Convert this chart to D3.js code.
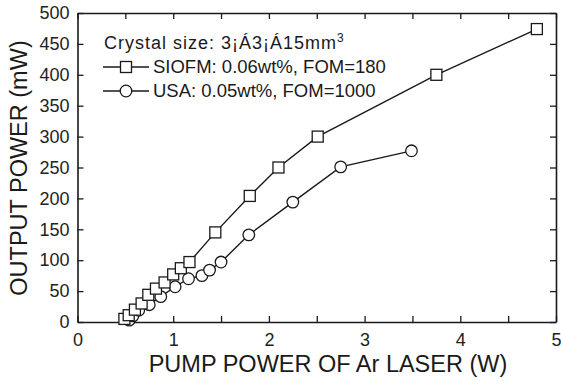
<!DOCTYPE html>
<html>
<head>
<meta charset="utf-8">
<script src="https://cdn.jsdelivr.net/npm/d3@7"></script>
<style>
  body { margin: 0; background: #fff; }
  svg { display: block; font-family: "Liberation Sans", Arial, sans-serif; }
</style>
</head>
<body>
<svg width="561" height="386"></svg>
<script>
// SIOFM: 0.06wt%, FOM=180 (squares)
var siofmX = [0.49, 0.535, 0.60, 0.67, 0.74, 0.82, 0.91, 1.00, 1.08, 1.17, 1.44, 1.80, 2.10, 2.51, 3.75, 4.80];
var siofmY = [5, 11, 20, 30, 44, 54, 64, 77, 87, 97, 145, 204, 250, 300, 400, 474];
// USA: 0.05wt%, FOM=1000 (circles)
var usaX = [0.54, 0.58, 0.64, 0.75, 0.87, 1.02, 1.16, 1.30, 1.38, 1.50, 1.79, 2.25, 2.75, 3.49];
var usaY = [3, 10, 19, 28, 41, 57, 70, 75, 84, 97, 141, 194, 251, 277];

var xTicks = [0, 1, 2, 3, 4, 5];
var yTicks = [0, 50, 100, 150, 200, 250, 300, 350, 400, 450, 500];

var svg = d3.select('svg');
// plot box (don't use "top", it clashes with window.top)
var pl = 77.5, pr = 556, pt = 13, pb = 322;

var xScale = d3.scaleLinear().domain([0, 5]).range([pl, pr]);
var yScale = d3.scaleLinear().domain([0, 500]).range([pb, pt]);

var halfTicks = d3.range(0, 5.01, 0.5);

// bottom axis, ticks pointing in
var xAxis = d3.axisBottom(xScale).tickValues(halfTicks).tickSizeInner(-6).tickSizeOuter(0)
  .tickPadding(10)
  .tickFormat(function(d) { return xTicks.indexOf(d) >= 0 ? d : ''; });
var gx = svg.append('g').attr('transform', 'translate(0,' + pb + ')').call(xAxis);

var xTop = d3.axisTop(xScale).tickValues(halfTicks).tickSizeInner(-6).tickSizeOuter(0).tickFormat('');
var gxt = svg.append('g').attr('transform', 'translate(0,' + pt + ')').call(xTop);

var yAxis = d3.axisLeft(yScale).tickValues(yTicks).tickSizeInner(-6).tickSizeOuter(0).tickPadding(8);
var gy = svg.append('g').attr('transform', 'translate(' + pl + ',0)').call(yAxis);

var yRight = d3.axisRight(yScale).tickValues(yTicks).tickSizeInner(-6).tickSizeOuter(0).tickFormat('');
var gyr = svg.append('g').attr('transform', 'translate(' + pr + ',0)').call(yRight);

[gx, gxt, gy, gyr].forEach(function(g) {
  g.select('.domain').attr('stroke', '#1a1a1a').attr('stroke-width', 1.6);
  g.selectAll('.tick line').attr('stroke', '#1a1a1a').attr('stroke-width', 1.3);
  g.selectAll('.tick text').attr('fill', '#222').style('font-size', '18px')
    .style('font-family', '"Liberation Sans", Arial, sans-serif');
});
gx.selectAll('.tick text').attr('dy', '0.75em');

// axis titles
svg.append('text')
  .attr('x', 328).attr('y', 372)
  .attr('text-anchor', 'middle').attr('fill', '#1a1a1a')
  .style('font-size', '23.5px')
  .text('PUMP POWER OF Ar LASER (W)');

svg.append('text')
  .attr('transform', 'translate(27,' + 168 + ') rotate(-90)')
  .attr('text-anchor', 'middle').attr('fill', '#1a1a1a')
  .style('font-size', '23.5px')
  .text('OUTPUT POWER (mW)');

var line = d3.line()
  .x(function(d) { return xScale(d[0]); })
  .y(function(d) { return yScale(d[1]); });

var siofm = siofmX.map(function(x, i) { return [x, siofmY[i]]; });
var usa = usaX.map(function(x, i) { return [x, usaY[i]]; });

svg.append('path').datum(usa).attr('d', line)
  .attr('fill', 'none').attr('stroke', '#1a1a1a').attr('stroke-width', 1.4);
svg.append('path').datum(siofm).attr('d', line)
  .attr('fill', 'none').attr('stroke', '#1a1a1a').attr('stroke-width', 1.4);

var sq = 11;
svg.selectAll('circle.usa').data(usa).enter().append('circle')
  .attr('class', 'usa')
  .attr('cx', function(d) { return xScale(d[0]); })
  .attr('cy', function(d) { return yScale(d[1]); })
  .attr('r', 5.8)
  .attr('fill', '#fff').attr('stroke', '#1a1a1a').attr('stroke-width', 1.3);

svg.selectAll('rect.siofm').data(siofm).enter().append('rect')
  .attr('class', 'siofm')
  .attr('x', function(d) { return xScale(d[0]) - sq / 2; })
  .attr('y', function(d) { return yScale(d[1]) - sq / 2; })
  .attr('width', sq).attr('height', sq)
  .attr('fill', '#fff').attr('stroke', '#1a1a1a').attr('stroke-width', 1.3);

// legend
var lg = svg.append('g').attr('fill', '#1a1a1a');
var title = lg.append('text').attr('x', 104).attr('y', 49).style('font-size', '18px');
title.append('tspan').attr('textLength', 232).attr('lengthAdjust', 'spacing')
  .text('Crystal size: 3\u00a1\u00c13\u00a1\u00c115mm');
title.append('tspan').attr('dy', -7).style('font-size', '12px').text('3');

var legendRows = [
  { label: 'SIOFM: 0.06wt%, FOM=180', shape: 'square', y: 67 },
  { label: 'USA: 0.05wt%, FOM=1000', shape: 'circle', y: 91 }
];
legendRows.forEach(function(r) {
  lg.append('line').attr('x1', 103).attr('x2', 149).attr('y1', r.y).attr('y2', r.y)
    .attr('stroke', '#1a1a1a').attr('stroke-width', 1.4);
  if (r.shape === 'square') {
    lg.append('rect').attr('x', 126 - sq / 2).attr('y', r.y - sq / 2).attr('width', sq).attr('height', sq)
      .attr('fill', '#fff').attr('stroke', '#1a1a1a').attr('stroke-width', 1.3);
  } else {
    lg.append('circle').attr('cx', 126).attr('cy', r.y).attr('r', 5.8)
      .attr('fill', '#fff').attr('stroke', '#1a1a1a').attr('stroke-width', 1.3);
  }
  lg.append('text').attr('x', 153).attr('y', r.y + 6).style('font-size', '18.5px').text(r.label);
});
</script>
</body>
</html>
